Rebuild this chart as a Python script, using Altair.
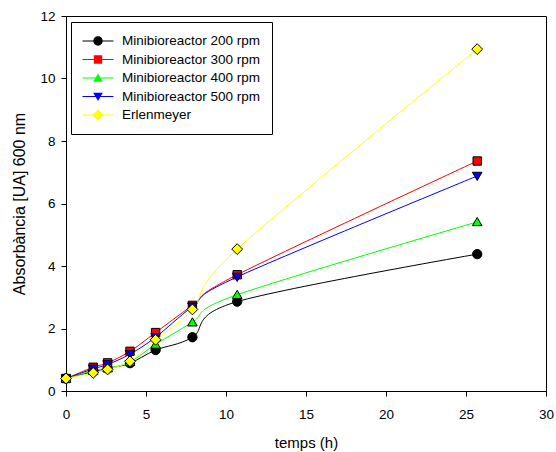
import altair as alt
import pandas as pd

# ---- data ----
temps = [0, 1.7, 2.6, 4.0, 5.6, 7.9, 10.7, 25.7]
rpm200 = [0.40, 0.62, 0.72, 0.89, 1.31, 1.72, 2.86, 4.38]
rpm300 = [0.40, 0.76, 0.90, 1.27, 1.87, 2.74, 3.72, 7.36]
rpm400 = [0.40, 0.65, 0.73, 0.93, 1.49, 2.20, 3.08, 5.41]
rpm500 = [0.40, 0.71, 0.85, 1.18, 1.72, 2.70, 3.65, 6.88]
erlen = [0.40, 0.58, 0.69, 0.95, 1.64, 2.61, 4.54, 10.94]

series_names = [
    "Minibioreactor 200 rpm",
    "Minibioreactor 300 rpm",
    "Minibioreactor 400 rpm",
    "Minibioreactor 500 rpm",
    "Erlenmeyer",
]
series_values = [rpm200, rpm300, rpm400, rpm500, erlen]
colors = ["#000000", "#ff0000", "#00ff00", "#0000ff", "#ffff00"]

# marker shapes (inside the -1..1 symbol box, small so the legend line fits)
shapes = [
    "M-0.3,0A0.3,0.3 0 1,0 0.3,0A0.3,0.3 0 1,0 -0.3,0Z",
    "M-0.27,-0.27H0.27V0.27H-0.27Z",
    "M0,-0.29L0.31,0.24L-0.31,0.24Z",
    "M0,0.29L0.31,-0.24L-0.31,-0.24Z",
    "M0,-0.35L0.35,0L0,0.35L-0.35,0Z",
]

rows = []
for name, vals in zip(series_names, series_values):
    for t, v in zip(temps, vals):
        rows.append({"temps": t, "abs": v, "serie": name})
df = pd.DataFrame(rows)

FONT = "Liberation Sans"
SYM = 961

common_legend = dict(
    title=None,
    orient="none",
    legendX=5,
    legendY=6,
    padding=11,
    symbolSize=SYM,
    clipHeight=16,
    rowPadding=2.5,
    labelOffset=8,
    labelFont=FONT,
    labelFontSize=13.5,
    labelColor="black",
)

x = alt.X(
    "temps:Q",
    scale=alt.Scale(domain=[0, 30], nice=False),
    axis=alt.Axis(values=[0, 5, 10, 15, 20, 25, 30], title="temps (h)"),
)
y = alt.Y(
    "abs:Q",
    scale=alt.Scale(domain=[0, 12], nice=False),
    axis=alt.Axis(values=[0, 2, 4, 6, 8, 10, 12], title="Absorbància [UA] 600 nm",
                  titleFontSize=16, titlePadding=12, labelPadding=6),
)

lines = alt.Chart(df).mark_line(interpolate="cardinal", strokeWidth=1).encode(
    x=x,
    y=y,
    color=alt.Color(
        "serie:N",
        sort=series_names,
        scale=alt.Scale(range=colors),
        legend=alt.Legend(symbolType="M-1,0H1", symbolStrokeWidth=1,
                          labelOpacity=0, **common_legend),
    ),
)

points = alt.Chart(df).mark_point(
    filled=True, size=SYM, stroke="black", strokeWidth=1, opacity=1
).encode(
    x=x,
    y=y,
    fill=alt.Fill(
        "serie:N",
        scale=alt.Scale(domain=series_names, range=colors),
        legend=alt.Legend(strokeColor="black", symbolStrokeColor="black",
                          symbolStrokeWidth=1, **common_legend),
    ),
    shape=alt.Shape(
        "serie:N",
        scale=alt.Scale(domain=series_names, range=shapes),
        legend=alt.Legend(strokeColor="black", symbolStrokeColor="black",
                          symbolStrokeWidth=1, **common_legend),
    ),
)

chart = (
    alt.layer(lines, points)
    .properties(
        width=480,
        height=375,
        autosize=alt.AutoSizeParams(type="none"),
        padding={"left": 66, "top": 16, "right": 10, "bottom": 61},
        background="white",
    )
    .configure_view(stroke="black", strokeWidth=1)
    .configure_axis(
        grid=False,
        domainColor="black",
        tickColor="black",
        tickSize=5,
        labelFlush=False,
        labelFont=FONT,
        labelFontSize=13.5,
        labelColor="black",
        titleFont=FONT,
        titleFontSize=15,
        titleFontWeight="normal",
        titleColor="black",
    )
    .configure_axisX(labelPadding=11, titlePadding=15)
)

chart.save("out.html", embed_options={"renderer": "svg", "actions": False})
